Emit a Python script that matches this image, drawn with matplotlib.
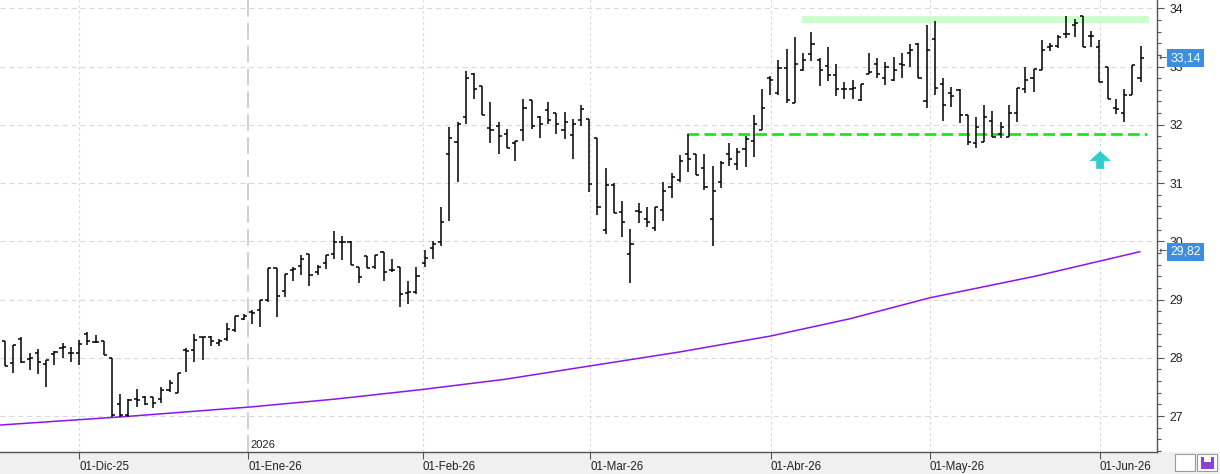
import matplotlib
matplotlib.use("Agg")
import matplotlib.pyplot as plt
from matplotlib.collections import LineCollection
from matplotlib.patches import Rectangle
from matplotlib.lines import Line2D
import numpy as np

# ---------------- data ----------------
opens = [28.29, 27.91, 28.33, 27.98, 28.08, 27.90, 28.07, 28.16, 28.09, 28.08,
         28.41, 28.27, 28.29, 27.99, 27.20, 27.01, 27.29, 27.33, 27.32, 27.30,
         27.45, 27.40, 28.13, 28.13, 28.35, 28.36, 28.26, 28.32, 28.47, 28.66,
         28.78, 28.82, 28.99, 29.535, 29.15, 29.51, 29.58, 29.78, 29.48, 29.62,
         29.78, 29.98, 29.99, 29.56, 29.74, 29.55, 29.81, 29.51, 29.55, 29.11,
         29.135, 29.63, 29.88, 29.99, 31.49, 31.70, 32.13, 32.88, 32.67, 31.94,
         31.98, 31.84, 31.68, 31.91, 32.43, 32.14, 32.25, 32.20, 31.91, 31.82,
         32.08, 32.10, 31.77, 30.20, 30.97, 30.50, 29.79, 30.52, 30.38, 30.22,
         30.54, 30.94, 31.06, 31.50, 31.50, 31.25, 30.39, 31.01, 31.49, 31.33,
         31.58, 31.72, 31.91, 32.81, 32.54, 32.97, 32.38, 32.94, 33.21, 33.12,
         33.01, 32.85, 32.61, 32.61, 32.43, 32.87, 33.04, 32.80, 32.77, 33.04,
         33.23, 33.39, 32.41, 33.47, 32.70, 32.54, 32.60, 32.17, 31.69, 31.71,
         32.07, 31.85, 31.79, 32.20, 32.61, 32.80, 32.94, 33.33, 33.35, 33.56,
         33.71, 33.87, 33.53, 33.34, 33.00, 32.28, 32.20, 32.51, 32.81]
highs = [28.29, 28.22, 28.35, 28.09, 28.15, 27.97, 28.12, 28.25, 28.19, 28.30,
         28.45, 28.39, 28.29, 27.99, 27.37, 27.30, 27.47, 27.34, 27.33, 27.50,
         27.62, 27.73, 28.16, 28.40, 28.36, 28.37, 28.32, 28.59, 28.71, 28.75,
         28.82, 29.00, 29.535, 29.535, 29.44, 29.56, 29.76, 29.78, 29.60, 29.76,
         30.18, 30.09, 30.01, 29.56, 29.74, 29.76, 29.81, 29.69, 29.55, 29.32,
         29.563, 29.85, 30.01, 30.594, 31.97, 32.04, 32.92, 32.89, 32.67, 32.39,
         32.04, 31.93, 31.72, 32.44, 32.43, 32.15, 32.39, 32.21, 32.22, 32.10,
         32.34, 32.10, 31.78, 31.25, 31.00, 30.69, 30.21, 30.65, 30.58, 30.58,
         31.01, 31.18, 31.48, 31.84, 31.50, 31.50, 31.29, 31.37, 31.68, 31.61,
         31.81, 32.16, 32.61, 32.83, 33.11, 33.30, 33.50, 33.24, 33.59, 33.15,
         33.33, 33.04, 32.74, 32.77, 32.70, 33.24, 33.14, 33.07, 33.17, 33.24,
         33.38, 33.40, 33.71, 33.78, 32.80, 32.65, 32.61, 32.17, 32.13, 32.34,
         32.23, 32.04, 32.34, 32.64, 32.99, 32.95, 33.46, 33.40, 33.54, 33.86,
         33.82, 33.87, 33.61, 33.46, 33.00, 32.44, 32.61, 33.03, 33.35]
lows = [27.85, 27.73, 27.915, 27.79, 27.715, 27.49, 27.875, 27.99, 27.93, 27.875,
        28.22, 28.25, 28.05, 26.99, 26.99, 26.99, 27.16, 27.19, 27.13, 27.22,
        27.42, 27.39, 27.76, 27.93, 27.96, 28.20, 28.20, 28.29, 28.45, 28.64,
        28.58, 28.53, 28.96, 28.705, 29.05, 29.32, 29.42, 29.24, 29.42, 29.52,
        29.69, 29.67, 29.60, 29.28, 29.535, 29.52, 29.31, 29.48, 28.88, 28.93,
        29.094, 29.55, 29.69, 29.92, 30.35, 31.01, 32.01, 32.45, 32.17, 31.69,
        31.49, 31.60, 31.37, 31.72, 31.93, 31.78, 32.01, 31.84, 31.76, 31.42,
        31.98, 30.85, 30.45, 30.125, 30.48, 30.08, 29.29, 30.32, 30.24, 30.18,
        30.34, 30.75, 31.01, 31.195, 31.13, 30.88, 29.92, 30.92, 31.30, 31.22,
        31.28, 31.45, 31.91, 32.52, 32.52, 32.38, 32.38, 32.93, 33.10, 32.67,
        32.75, 32.49, 32.45, 32.45, 32.41, 32.87, 32.81, 32.68, 32.76, 32.81,
        32.99, 32.80, 32.29, 32.52, 32.07, 32.31, 32.03, 31.65, 31.60, 31.70,
        31.79, 31.77, 31.79, 32.05, 32.55, 32.57, 32.94, 33.27, 33.31, 33.49,
        33.50, 33.33, 33.33, 32.74, 32.44, 32.18, 32.05, 32.51, 32.74]
closes = [27.85, 28.22, 27.92, 28.00, 27.93, 27.96, 28.10, 28.19, 28.09, 28.24,
          28.29, 28.27, 28.05, 27.02, 27.02, 27.27, 27.27, 27.20, 27.22, 27.45,
          27.57, 27.73, 28.12, 28.30, 28.35, 28.29, 28.29, 28.49, 28.71, 28.72,
          28.77, 29.00, 29.535, 29.066, 29.44, 29.53, 29.69, 29.42, 29.55, 29.76,
          29.98, 29.99, 29.60, 29.38, 29.535, 29.76, 29.48, 29.50, 29.094, 29.135,
          29.40, 29.72, 29.96, 30.325, 31.78, 32.02, 32.80, 32.61, 32.17, 31.91,
          31.81, 31.60, 31.72, 32.28, 31.98, 32.02, 32.09, 32.01, 32.05, 32.01,
          32.27, 30.99, 30.58, 30.97, 30.49, 30.325, 29.96, 30.50, 30.325, 30.58,
          30.86, 31.11, 31.38, 31.42, 31.13, 30.93, 30.86, 31.35, 31.41, 31.53,
          31.75, 32.01, 32.29, 32.77, 32.97, 32.43, 33.04, 33.12, 33.38, 32.94,
          32.85, 32.61, 32.61, 32.64, 32.70, 32.91, 32.87, 32.99, 32.94, 33.03,
          33.28, 32.80, 33.28, 32.64, 32.34, 32.50, 32.17, 31.71, 31.97, 32.13,
          31.79, 31.96, 32.20, 32.64, 32.77, 32.95, 33.28, 33.35, 33.51, 33.56,
          33.74, 33.33, 33.52, 32.74, 32.44, 32.27, 32.51, 33.03, 33.14]

# moving average (purple line), read at sample bars
ma_bar = [-0.6, 14.6, 29.8, 40.1, 50.4, 60.75, 71.1, 82.0, 93.1, 102.7,
          112.4, 125.2, 137.9]
ma_val = [26.845, 26.99, 27.155, 27.29, 27.45, 27.63, 27.86, 28.10, 28.375,
          28.67, 29.03, 29.40, 29.82]

# month ticks (bar positions) and labels
month_pos = [9.05, 29.56, 50.75, 71.15, 93.07, 112.4, 133.05]
month_labels = ["01-Dic-25", "01-Ene-26", "01-Feb-26", "01-Mar-26",
                "01-Abr-26", "01-May-26", "01-Jun-26"]
year_pos = 29.56
year_label = "2026"

y_ticks = [27, 28, 29, 30, 31, 32, 33, 34]

# drawn support / resistance
resist_lo, resist_hi = 33.75, 33.87
resist_from, resist_to = 96.8, 139.0
support_level = 31.84
support_from, support_to = 82.9, 138.8
arrow_bar = 133.1
arrow_tip, arrow_base = 31.54, 31.25

# ---------------- figure ----------------
W, H = 1220, 474
fig = plt.figure(figsize=(W / 100, H / 100), dpi=100)
fig.patch.set_facecolor("white")
fig.patches.append(Rectangle((0, 0), 1, 22 / H, transform=fig.transFigure,
                             facecolor="#f0f0f0", edgecolor="none", zorder=-5))

ax = fig.add_axes([0, 22 / H, 1157 / W, 452 / H])
ax.set_facecolor("white")
ax.set_xlim(-0.61, 140.0)
ax.set_ylim(26.382, 34.1425)

FONT = "Liberation Sans"

# gridlines
for yv in y_ticks:
    ax.axhline(yv, color="#d9d9d9", lw=0.8, dashes=(4.5, 3.5), zorder=1)
for mp in month_pos:
    if mp == year_pos:
        ax.axvline(mp, color="#c4c4c4", lw=1.1, dashes=(11, 4), zorder=1)
    else:
        ax.axvline(mp, color="#d9d9d9", lw=0.8, dashes=(2.5, 2.5), zorder=1)

# resistance band and support line
ax.fill_between([resist_from, resist_to], resist_lo, resist_hi,
                color="#ccffcc", lw=0, zorder=2)
ax.plot([support_from, support_to], [support_level, support_level],
        color="#11ee11", lw=2.0, dashes=(4.2, 1.9), zorder=2,
        solid_capstyle="butt", dash_capstyle="butt")

# moving average
ax.plot(ma_bar, ma_val, color="#8c14f0", lw=1.1, zorder=3)

# OHLC bars
x = np.arange(len(opens))
tk = 0.38
segs = []
for i in x:
    segs.append([(i, lows[i]), (i, highs[i])])
    segs.append([(i - tk, opens[i]), (i, opens[i])])
    segs.append([(i, closes[i]), (i + tk, closes[i])])
ax.add_collection(LineCollection(segs, colors="black", linewidths=1.1,
                                 capstyle="butt", zorder=4))

# arrow
ax.annotate("", xy=(arrow_bar, arrow_tip), xytext=(arrow_bar, arrow_base),
            arrowprops=dict(arrowstyle="simple,head_length=0.33,head_width=0.72,tail_width=0.26",
                            fc="#33cccc", ec="#33cccc", lw=0.5, mutation_scale=20,
                            shrinkA=0, shrinkB=0),
            zorder=5)

# axes styling
for s in ["left", "top"]:
    ax.spines[s].set_visible(False)
ax.spines["right"].set_color("#555555")
ax.spines["bottom"].set_color("#555555")
ax.spines["right"].set_linewidth(1.0)
ax.spines["bottom"].set_linewidth(1.0)

ax.yaxis.tick_right()
ax.set_yticks(y_ticks)
ax.set_yticklabels([str(v) for v in y_ticks], fontsize=8.8, family=FONT,
                   color="#222222")
ax.set_yticks(np.arange(26.4, 34.15, 0.2), minor=True)
ax.tick_params(axis="y", which="major", length=5, width=0.8, color="#555555",
               direction="out", pad=4)
ax.tick_params(axis="y", which="minor", length=3, width=0.8, color="#555555",
               direction="out")

ax.set_xticks(month_pos)
ax.set_xticklabels(month_labels, fontsize=8.3, family=FONT, color="#222222",
                   ha="left")
ax.tick_params(axis="x", which="major", length=5, width=0.8, color="#555555",
               direction="out", pad=1.5)

ax.text(year_pos + 0.25, 26.382 + 0.03, year_label, fontsize=8, family=FONT,
        color="#222222", ha="left", va="bottom", zorder=6)

# last-value boxes on the price scale
ytr = ax.get_yaxis_transform()
for val, txt in [(closes[-1], f"{closes[-1]:.2f}".replace(".", ",")),
                 (ma_val[-1], f"{ma_val[-1]:.2f}".replace(".", ","))]:
    ax.text(1.0012, val, "←", transform=ytr, fontsize=7, family="DejaVu Sans",
            color="#444444", ha="left", va="center", clip_on=False)
    ax.text(1.0115, val, txt, transform=ytr, fontsize=8.8, family=FONT,
            color="white", ha="left", va="center", clip_on=False, zorder=10,
            bbox=dict(boxstyle="square,pad=0.25", fc="#3d8ee0", ec="none"))

# small buttons at the bottom right
for bx in [1175, 1197]:
    fig.patches.append(Rectangle((bx / W, 3 / H), 20 / W, 17 / H,
                                 transform=fig.transFigure, facecolor="white",
                                 edgecolor="#9a9a9a", lw=0.8, zorder=2))
fig.lines.append(Line2D([1179 / W, 1183 / W, 1186 / W, 1189 / W, 1192 / W],
                        [9 / H, 14 / H, 10 / H, 15 / H, 11 / H],
                        transform=fig.transFigure, color="#4a90d9", lw=1.0))
fig.patches.append(Rectangle((1200.5 / W, 5.5 / H), 13 / W, 12 / H,
                             transform=fig.transFigure, facecolor="#8844cc",
                             edgecolor="none", zorder=3))
fig.patches.append(Rectangle((1203.5 / W, 12 / H), 7 / W, 5 / H,
                             transform=fig.transFigure, facecolor="white",
                             edgecolor="none", zorder=4))

fig.savefig("out.png", dpi=100, facecolor=fig.get_facecolor())
